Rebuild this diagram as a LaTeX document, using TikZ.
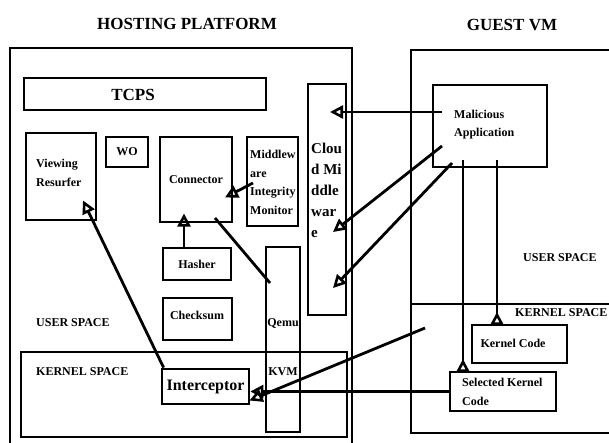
\documentclass[tikz,border=0pt]{standalone}
\usepackage{fontspec}
\setmainfont{Liberation Serif}
\usetikzlibrary{arrows.meta,calc}
\tikzset{
  box/.style={draw,line width=2.8pt,inner sep=0pt,font=\fontsize{12}{14}\selectfont\bfseries},
  lbl/.style={inner sep=0pt,align=left,font=\fontsize{12}{18.5}\selectfont\bfseries},
  ttl/.style={inner sep=0pt,font=\fontsize{17}{20}\selectfont\bfseries},
  tip/.style={line width=2.8pt,-{Triangle[open,length=13pt,width=13pt,line width=2.6pt]}},
  backtip/.style={line width=2.8pt,-{Triangle[open,reversed,length=13pt,width=13pt,line width=2.6pt]}}
}
\begin{document}
\begin{tikzpicture}[x=1pt,y=-1pt]
  \useasboundingbox (0,0) rectangle (609,442);
  \node[ttl] (hosttitle) at (187,24) {HOSTING PLATFORM};
  \node[ttl] (guesttitle) at (512,25) {GUEST VM};
  \node[box,minimum width=342pt,minimum height=397pt] (host) at (181,246.5) {};
  \node[box,minimum width=326pt,minimum height=85pt] (hks) at (184,394.5) {};
  \node[box,minimum width=201pt,minimum height=383pt] (guest) at (511.5,241.5) {};
  \node[box,minimum width=201pt,minimum height=129pt] (gks) at (511.5,368.5) {};
  \node[box,minimum width=242pt,minimum height=32pt] (tcps) at (145,94) {};
  \node[ttl] (tcpstxt) at (133,95) {TCPS};
  \node[box,minimum width=70pt,minimum height=87pt] (viewing) at (61,176.5) {};
  \node[lbl,anchor=west,font=\fontsize{12}{19}\selectfont\bfseries] (viewingtxt) at (36,172.5) {Viewing\\Resurfer};
  \node[box,minimum width=42pt,minimum height=30pt] (wo) at (127,152) {WO};
  \node[box,minimum width=72pt,minimum height=85pt] (connector) at (196,179.5) {Connector};
  \node[box,minimum width=51pt,minimum height=89pt] (mim) at (272.5,181.5) {};
  \node[lbl,anchor=west] (mimtxt) at (250,182.5) {Middlew\\are\\Integrity\\Monitor};
  \node[box,minimum width=38pt,minimum height=231pt] (cloud) at (327,199.5) {};
  \node[lbl,anchor=west,font=\fontsize{15}{21}\selectfont\bfseries] (cloudtxt) at (311,190) {Clou\\d Mi\\ddle\\war\\e};
  \node[box,minimum width=68pt,minimum height=32pt] (hasher) at (197,264) {Hasher};
  \node[box,minimum width=69pt,minimum height=42pt] (checksum) at (197.5,319) {};
  \node[lbl] (checksumtxt) at (197,315) {Checksum};
  \node[box,minimum width=34pt,minimum height=185pt] (qemu) at (283,339.5) {};
  \node[lbl] (qemutxt) at (283,323) {Qemu};
  \node[lbl] (kvmtxt) at (283,372) {KVM};
  \node[lbl,anchor=west] (husertxt) at (36,323) {USER SPACE};
  \node[lbl,anchor=west] (hkerneltxt) at (36,372) {KERNEL SPACE};
  \node[box,minimum width=87pt,minimum height=35pt,font=\fontsize{16}{18}\selectfont\bfseries] (interceptor) at (205.5,386.5) {Interceptor};
  \node[box,minimum width=114pt,minimum height=82pt] (mal) at (490,126) {};
  \node[lbl,anchor=west,font=\fontsize{12}{18}\selectfont\bfseries] (maltxt) at (454,125) {Malicious\\Application};
  \node[lbl,anchor=west] (gusertxt) at (523,258) {USER SPACE};
  \node[lbl,anchor=west] (gkerneltxt) at (515,313) {KERNEL SPACE};
  \node[box,minimum width=95pt,minimum height=38pt] (kcode) at (519.5,344) {};
  \node[lbl] (kcodetxt) at (513,343) {Kernel Code};
  \node[box,minimum width=106pt,minimum height=39pt] (skcode) at (503,391.5) {};
  \node[lbl,anchor=west,font=\fontsize{12}{19}\selectfont\bfseries] (skcodetxt) at (462,391.5) {Selected Kernel\\Code};
  \begin{scope}[tip]
    \draw ($(mal)+(-48,-14)$) -- ($(cloud)+(3,-87.5)$);
    \draw ($(mal)+(-48,20)$) -- ($(cloud)+(6,32.5)$);
    \draw ($(mal)+(-38,37)$) -- ($(cloud)+(6,88.5)$);
    \draw ($(gks)+(-86.5,-40.5)$) -- ($(interceptor)+(44,14)$);
    \draw (skcode.west) -- (skcode.west -| interceptor.east);
    \draw ($(interceptor.north west)+(3,0)$) -- ($(viewing)+(22,24)$);
    \draw ($(hasher.north)+(-13,0)$) -- ($(connector)+(-12,34)$);
    \draw ($(mim)+(-19.5,1.5)$) -- ($(connector)+(29,18)$);
  \end{scope}
  \begin{scope}[backtip]
    \draw ($(mal)+(-27,34)$) -- ($(skcode)+(-40,-19.5)$);
    \draw ($(mal)+(7,34)$) -- ($(kcode)+(-22.5,-19)$);
  \end{scope}
  \draw[line width=2.8pt] ($(connector)+(19,38.5)$) -- ($(qemu)+(-13,-56.5)$);
\end{tikzpicture}
\end{document}
